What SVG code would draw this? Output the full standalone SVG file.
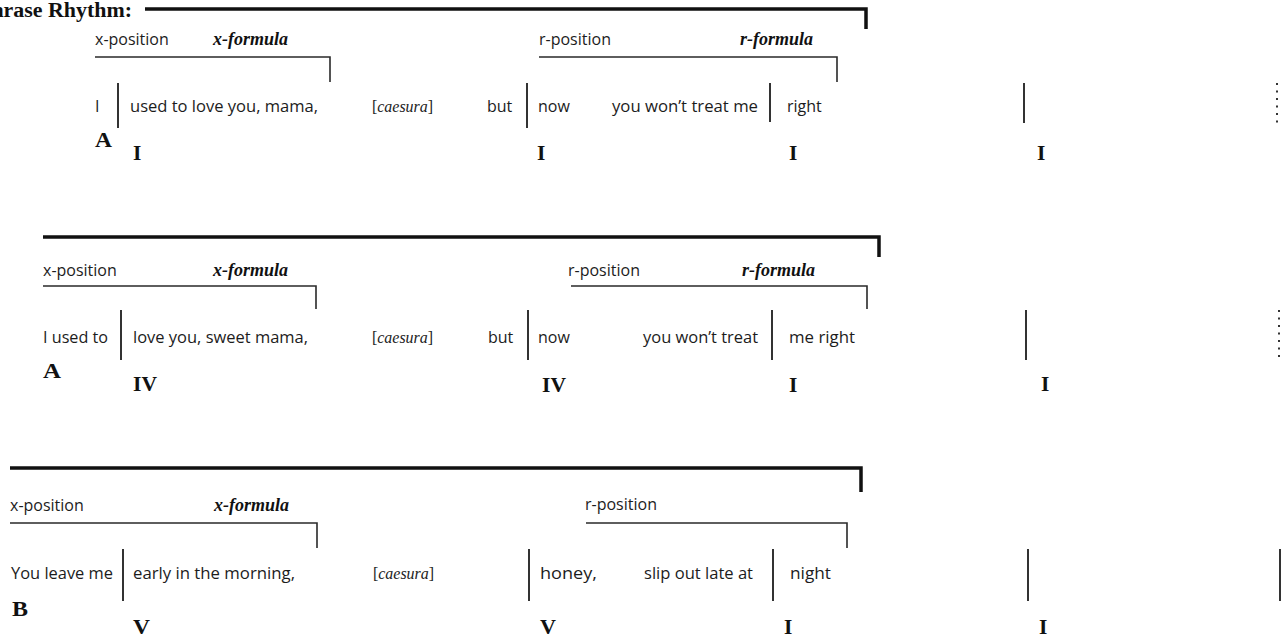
<svg xmlns="http://www.w3.org/2000/svg" width="1281" height="637" viewBox="0 0 1281 637">
  <style>
    .lyr { font-family: "Open Sans", "Liberation Sans", sans-serif; font-size: 16px; fill: #1c1c1c; }
    .frm { font-family: "Liberation Serif", serif; font-weight: bold; font-style: italic; font-size: 18px; fill: #111; }
    .cae { font-family: "Liberation Serif", serif; font-size: 16px; fill: #222; }
    .cae .it { font-style: italic; }
    .rn  { font-family: "Liberation Serif", serif; font-weight: bold; font-size: 21.5px; fill: #111; }
    .ttl { font-family: "Liberation Serif", serif; font-weight: bold; font-size: 20px; fill: #111; }
    .span { stroke: #111; stroke-width: 3.5; fill: none; }
    .brk { stroke: #2a2a2a; stroke-width: 1.6; fill: none; }
    .bar { stroke: #333; stroke-width: 2; }
    .dot { stroke: #333; stroke-width: 2; stroke-dasharray: 2 5.5; }
  </style>

  <!-- heading, running off the left margin -->
  <g id="title">
    <text class="ttl" x="-22" y="17" textLength="154" lengthAdjust="spacingAndGlyphs">Phrase Rhythm:</text>
  </g>

  <!-- line 1 -->
  <g id="line1">
    <g id="l1-labels">
      <text class="lyr" x="95" y="45">x-position</text>
      <text class="frm" x="213" y="45">x-formula</text>
      <text class="lyr" x="539" y="45">r-position</text>
      <text class="frm" x="740" y="45">r-formula</text>
    </g>
    <g id="l1-lyrics">
      <text class="lyr" x="95" y="112">I</text>
      <text class="lyr" x="130" y="112" textLength="188" lengthAdjust="spacingAndGlyphs">used to love you, mama,</text>
      <text class="cae" x="372" y="112" textLength="61" lengthAdjust="spacingAndGlyphs">[<tspan class="it">caesura</tspan>]</text>
      <text class="lyr" x="487" y="112">but</text>
      <text class="lyr" x="538" y="112">now</text>
      <text class="lyr" x="612" y="112" textLength="146" lengthAdjust="spacingAndGlyphs">you won’t treat me</text>
      <text class="lyr" x="787" y="112">right</text>
    </g>
    <g id="l1-section"><text class="rn" x="95" y="147" textLength="17" lengthAdjust="spacingAndGlyphs">A</text></g>
    <g id="l1-chords">
      <text class="rn" x="133" y="160">I</text>
      <text class="rn" x="537" y="160">I</text>
      <text class="rn" x="789" y="160">I</text>
      <text class="rn" x="1037" y="160">I</text>
    </g>
  </g>

  <!-- line 2 -->
  <g id="line2">
    <g id="l2-labels">
      <text class="lyr" x="43" y="276">x-position</text>
      <text class="frm" x="213" y="276">x-formula</text>
      <text class="lyr" x="568" y="276">r-position</text>
      <text class="frm" x="742" y="276">r-formula</text>
    </g>
    <g id="l2-lyrics">
      <text class="lyr" x="43" y="343" textLength="65" lengthAdjust="spacingAndGlyphs">I used to</text>
      <text class="lyr" x="133" y="343" textLength="175" lengthAdjust="spacingAndGlyphs">love you, sweet mama,</text>
      <text class="cae" x="372" y="343" textLength="61" lengthAdjust="spacingAndGlyphs">[<tspan class="it">caesura</tspan>]</text>
      <text class="lyr" x="488" y="343">but</text>
      <text class="lyr" x="538" y="343">now</text>
      <text class="lyr" x="643" y="343" textLength="115" lengthAdjust="spacingAndGlyphs">you won’t treat</text>
      <text class="lyr" x="789" y="343" textLength="66" lengthAdjust="spacingAndGlyphs">me right</text>
    </g>
    <g id="l2-section"><text class="rn" x="43" y="378" textLength="18" lengthAdjust="spacingAndGlyphs">A</text></g>
    <g id="l2-chords">
      <text class="rn" x="133" y="391" textLength="24" lengthAdjust="spacingAndGlyphs">IV</text>
      <text class="rn" x="542" y="392" textLength="24" lengthAdjust="spacingAndGlyphs">IV</text>
      <text class="rn" x="789" y="392">I</text>
      <text class="rn" x="1041" y="391">I</text>
    </g>
  </g>

  <!-- line 3 -->
  <g id="line3">
    <g id="l3-labels">
      <text class="lyr" x="10" y="511">x-position</text>
      <text class="frm" x="214" y="511">x-formula</text>
      <text class="lyr" x="585" y="510">r-position</text>
    </g>
    <g id="l3-lyrics">
      <text class="lyr" x="11" y="579" textLength="102" lengthAdjust="spacingAndGlyphs">You leave me</text>
      <text class="lyr" x="133" y="579" textLength="162" lengthAdjust="spacingAndGlyphs">early in the morning,</text>
      <text class="cae" x="373" y="579" textLength="61" lengthAdjust="spacingAndGlyphs">[<tspan class="it">caesura</tspan>]</text>
      <text class="lyr" x="540" y="579" textLength="57" lengthAdjust="spacingAndGlyphs">honey,</text>
      <text class="lyr" x="644" y="579" textLength="109" lengthAdjust="spacingAndGlyphs">slip out late at</text>
      <text class="lyr" x="790" y="579" textLength="41" lengthAdjust="spacingAndGlyphs">night</text>
    </g>
    <g id="l3-section"><text class="rn" x="12" y="616" textLength="16" lengthAdjust="spacingAndGlyphs">B</text></g>
    <g id="l3-chords">
      <text class="rn" x="133" y="634" textLength="17" lengthAdjust="spacingAndGlyphs">V</text>
      <text class="rn" x="540" y="634" textLength="16" lengthAdjust="spacingAndGlyphs">V</text>
      <text class="rn" x="784" y="634">I</text>
      <text class="rn" x="1039" y="634">I</text>
    </g>
  </g>

  <!-- spans, formula brackets and bar lines -->
  <g id="connectors">
    <path class="span" d="M145 9 H866 V29"/>
    <path class="brk" d="M95 57 H330 V82"/>
    <path class="brk" d="M539 57 H837 V82"/>
    <line class="bar" x1="118" y1="83" x2="118" y2="128"/>
    <line class="bar" x1="527" y1="83" x2="527" y2="128"/>
    <line class="bar" x1="770" y1="83" x2="770" y2="122"/>
    <line class="bar" x1="1024" y1="83" x2="1024" y2="123"/>
    <line class="dot" x1="1277" y1="83" x2="1277" y2="123"/>

    <path class="span" d="M43 237 H879 V257"/>
    <path class="brk" d="M43 286 H316 V309"/>
    <path class="brk" d="M571 286 H867 V309"/>
    <line class="bar" x1="121" y1="310" x2="121" y2="360"/>
    <line class="bar" x1="528" y1="310" x2="528" y2="360"/>
    <line class="bar" x1="772" y1="310" x2="772" y2="360"/>
    <line class="bar" x1="1026" y1="310" x2="1026" y2="360"/>
    <line class="dot" x1="1279" y1="310" x2="1279" y2="360"/>

    <path class="span" d="M10 468 H861 V492"/>
    <path class="brk" d="M10 523 H317 V548"/>
    <path class="brk" d="M586 523 H847 V548"/>
    <line class="bar" x1="123" y1="549" x2="123" y2="601"/>
    <line class="bar" x1="529" y1="549" x2="529" y2="601"/>
    <line class="bar" x1="773" y1="549" x2="773" y2="601"/>
    <line class="bar" x1="1028" y1="549" x2="1028" y2="601"/>
    <line class="bar" x1="1280" y1="549" x2="1280" y2="601"/>
  </g>
</svg>
